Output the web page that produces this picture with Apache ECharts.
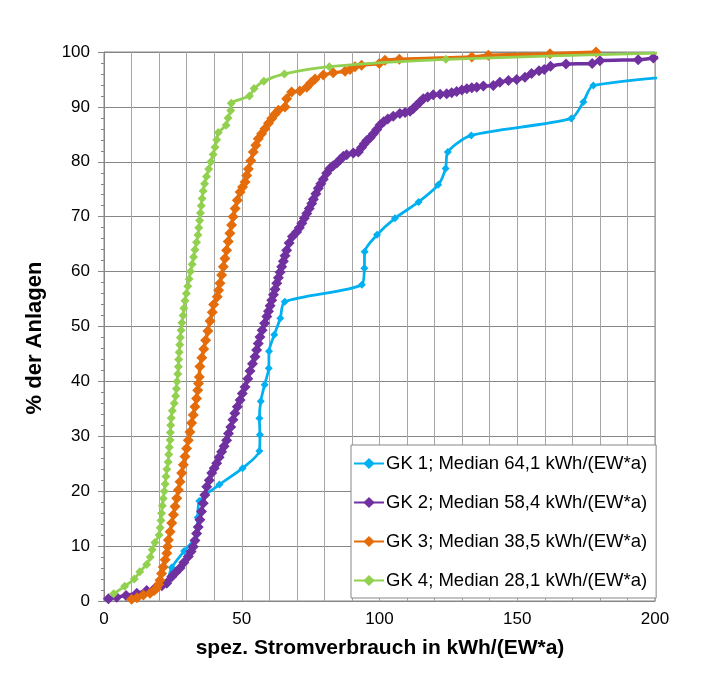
<!DOCTYPE html>
<html><head><meta charset="utf-8">
<script src="https://cdn.jsdelivr.net/npm/echarts@6/dist/echarts.min.js"></script>
<style>html,body{margin:0;padding:0;background:#fff}#c{width:720px;height:700px}</style>
</head><body><div id="c"></div>
<script>
const seriesNames = [
  'GK 1; Median 64,1 kWh/(EW*a)',
  'GK 2; Median 58,4 kWh/(EW*a)',
  'GK 3; Median 38,5 kWh/(EW*a)',
  'GK 4; Median 28,1 kWh/(EW*a)'
];
const seriesColors = ['#00B0F0', '#7030A0', '#E46C0A', '#92D050'];
const xTickLabels = [0, 50, 100, 150, 200];
const yTickLabels = [0, 10, 20, 30, 40, 50, 60, 70, 80, 90, 100];

const gk1X = [22.8, 24.6, 29.1, 33.8, 34.0, 34.6, 41.9, 50.3, 56.4, 56.6, 56.4, 56.9, 58.3, 59.8, 59.9, 61.8, 64.0, 65.6, 93.6, 94.5, 94.6, 99.1, 105.6, 114.2, 121.3, 124.0, 124.8, 133.3, 169.6, 174.0, 177.6, 241, 300];
const gk1Y = [3.0, 6.1, 9.1, 12.1, 15.2, 18.2, 21.2, 24.2, 27.3, 30.3, 33.3, 36.4, 39.4, 42.4, 45.5, 48.5, 51.5, 54.5, 57.6, 60.6, 63.6, 66.7, 69.7, 72.7, 75.8, 78.8, 81.8, 84.8, 87.9, 90.9, 93.9, 97.0, 100];

const gk2X = [1.6, 4.6, 8, 11.9, 15.5, 18.5, 21, 22.8, 24.6, 26, 27.6, 29, 30.6, 31.6, 32.4, 33, 33.6, 34.2, 34.8, 35.4, 36.0, 36.6, 37.3, 38.2, 39.1, 40.0, 40.9, 41.8, 42.7, 43.6, 44.5, 45.2, 46.0, 46.8, 47.5, 48.4, 49.4, 50.2, 51.2, 52.2, 53.0, 53.9, 54.8, 55.4, 56.0, 56.6, 57.4, 58.3, 59.1, 59.7, 60.3, 60.9, 61.5, 62.1, 62.7, 63.3, 63.9, 64.5, 65.1, 65.7, 66.3, 67.2, 68.4, 69.9, 70.9, 71.8, 72.7, 73.6, 74.5, 75.4, 76.0, 76.9, 77.8, 78.7, 79.6, 80.8, 82.0, 83.2, 84.5, 85.7, 86.9, 88.1, 90.5, 92.3, 93.5, 94.5, 95.4, 96.6, 97.8, 99.0, 100.2, 101.5, 103.0, 105.0, 107.4, 109.3, 111.1, 112.3, 113.5, 114.7, 115.9, 117.5, 119.5, 122, 124.4, 126.2, 128.0, 129.9, 131.7, 133.5, 135.3, 137.7, 141.3, 143.7, 146.8, 149.8, 152.8, 155.2, 157.9, 159.8, 162.1, 167.7, 177.2, 180.0, 193.9, 199.4, 222];
const gk2Y = [0.4, 0.7, 1.0, 1.4, 1.9, 2.3, 2.8, 3.3, 4.4, 5.2, 6.0, 7.0, 8.1, 9.0, 9.9, 11, 12.3, 13.5, 14.8, 16.3, 17.8, 19.3, 20.8, 22, 23.3, 24.2, 25.1, 26.2, 27.2, 28.2, 29.3, 30.5, 31.7, 33.0, 34.2, 35.4, 36.6, 37.8, 39.0, 40.5, 41.9, 43.2, 44.5, 45.7, 46.9, 48.1, 49.3, 50.6, 51.8, 52.8, 53.8, 54.8, 55.8, 56.8, 57.9, 58.9, 59.9, 60.9, 61.9, 62.9, 63.9, 65.2, 66.4, 67.2, 68.0, 68.8, 69.7, 70.6, 71.5, 72.4, 73.2, 74.2, 75.2, 76.0, 76.8, 77.9, 78.8, 79.3, 79.8, 80.4, 81.0, 81.3, 81.6, 81.8, 82.6, 83.3, 83.9, 84.4, 85.1, 85.9, 86.7, 87.3, 87.8, 88.3, 88.8, 89.0, 89.2, 89.7, 90.3, 90.9, 91.5, 91.8, 92.2, 92.3, 92.4, 92.6, 92.8, 93.1, 93.3, 93.5, 93.6, 93.8, 93.9, 94.5, 94.8, 95.0, 95.4, 96.1, 96.6, 96.8, 97.4, 97.8, 97.9, 98.4, 98.6, 98.9, 100];

const gk3X = [10.0, 12, 14.3, 16.7, 18.2, 19.1, 19.8, 20.3, 20.9, 21.5, 22.2, 22.8, 23.1, 23.4, 24.0, 24.6, 25.2, 25.8, 26.4, 27.0, 27.6, 28.2, 28.8, 29.4, 30.0, 30.6, 31.2, 31.8, 32.4, 33.0, 33.6, 34.0, 34.3, 34.6, 34.8, 35.5, 36.2, 36.9, 37.7, 38.5, 39.3, 39.8, 41.1, 41.6, 42.1, 42.7, 43.3, 43.9, 44.5, 45.1, 45.7, 46.3, 46.9, 47.6, 48.4, 49.4, 50.3, 51.2, 51.8, 52.4, 53.3, 54.2, 55.1, 56.0, 57.2, 58.4, 59.7, 60.9, 62.1, 63.3, 65.7, 66.3, 68.1, 71.1, 73.6, 75.1, 76.6, 79.6, 83.2, 87.5, 89.3, 91.1, 93.5, 99.9, 102.0, 107.2, 133.5, 139.5, 161.9, 178.6];
const gk3Y = [0.3, 0.6, 1.1, 1.4, 1.9, 2.3, 3.0, 3.8, 5.0, 6.2, 7.5, 8.7, 9.9, 11.1, 12.6, 14.2, 15.7, 17.2, 18.7, 20.2, 21.7, 23.3, 24.8, 26.3, 27.8, 29.3, 30.8, 32.4, 33.9, 35.4, 36.9, 38.4, 39.6, 40.8, 42.7, 44.3, 45.9, 47.5, 49.2, 51.0, 52.6, 54.0, 55.4, 56.6, 57.9, 59.4, 60.9, 62.4, 63.9, 65.5, 67.0, 68.5, 70.0, 71.5, 73.0, 74.5, 75.4, 76.3, 77.5, 78.7, 80.2, 81.8, 83.0, 84.2, 85.1, 86.0, 87.0, 87.9, 88.7, 89.4, 90.0, 91.5, 92.7, 92.9, 93.6, 94.4, 95.1, 95.8, 96.2, 96.5, 96.8, 97.3, 97.6, 97.9, 98.5, 98.7, 99.1, 99.4, 99.7, 100];

const gk4X = [3.5, 7.5, 11.0, 13.0, 15.5, 16.8, 17.5, 18.5, 20.0, 20.4, 20.7, 20.9, 21.2, 21.5, 21.9, 22.2, 22.5, 22.8, 23.3, 23.5, 23.7, 24.0, 24.1, 24.2, 24.4, 24.8, 25.5, 26.0, 26.3, 26.5, 26.8, 27.0, 27.1, 27.3, 27.5, 27.7, 28.0, 28.3, 28.7, 29.0, 29.4, 29.9, 30.4, 30.9, 31.4, 32.0, 32.5, 33.0, 33.6, 34.1, 34.4, 34.7, 35.0, 35.3, 35.6, 36.0, 36.5, 37.2, 38.0, 38.8, 39.6, 40.3, 40.9, 41.5, 44.3, 45.0, 46.0, 46.2, 52.8, 54.5, 58.0, 65.5, 81.8, 124.1, 215];
const gk4Y = [1.33, 2.67, 4.0, 5.33, 6.67, 8.0, 9.33, 10.67, 12.0, 13.33, 14.67, 16.0, 17.33, 18.67, 20.0, 21.33, 22.67, 24.0, 25.33, 26.67, 28.0, 29.33, 30.67, 32.0, 33.33, 34.67, 36.0, 37.33, 38.67, 40.0, 41.33, 42.67, 44.0, 45.33, 46.67, 48.0, 49.33, 50.67, 52.0, 53.33, 54.67, 56.0, 57.33, 58.67, 60.0, 61.33, 62.67, 64.0, 65.33, 66.67, 68.0, 69.33, 70.67, 72.0, 73.33, 74.67, 76.0, 77.33, 78.67, 80.0, 81.33, 82.67, 84.0, 85.33, 86.67, 88.0, 89.33, 90.67, 92.0, 93.33, 94.67, 96.0, 97.33, 98.67, 100];

const xs = [gk1X, gk2X, gk3X, gk4X];
const ys = [gk1Y, gk2Y, gk3Y, gk4Y];
const symSizes = [8, 11, 11, 9];
const lineWidths = [2.75, 3.5, 3.5, 2.75];
const FONT = "'Liberation Sans', Arial, sans-serif";

const chart = echarts.init(document.getElementById('c'), null, {renderer: 'canvas'});
const series = seriesNames.map((name, i) => ({
  name: name,
  type: 'line',
  data: xs[i].map((x, j) => [x, ys[i][j]]),
  smooth: 0.25,
  symbol: 'diamond',
  symbolSize: symSizes[i],
  showAllSymbol: true,
  clip: true,
  color: seriesColors[i],
  lineStyle: {width: lineWidths[i], color: seriesColors[i]},
  itemStyle: {color: seriesColors[i]},
  emphasis: {disabled: true},
  animation: false,
  z: 2 + i
}));

chart.setOption({
  animation: false,
  backgroundColor: '#ffffff',
  textStyle: {fontFamily: FONT},
  grid: {left: 104, right: 65, top: 52, bottom: 99, show: true, borderColor: '#868686', borderWidth: 1, backgroundColor: 'transparent'},
  xAxis: {
    type: 'value', min: 0, max: 200, interval: 10,
    axisLine: {show: true, lineStyle: {color: '#868686', width: 1}},
    axisTick: {show: false},
    splitLine: {show: true, lineStyle: {color: '#A6A6A6', width: 1}},
    axisLabel: {
      margin: 10, color: '#000', fontSize: 17, fontFamily: FONT,
      formatter: v => xTickLabels.indexOf(v) >= 0 ? String(v) : ''
    }
  },
  yAxis: {
    type: 'value', min: 0, max: 100, interval: 10,
    axisLine: {show: true, lineStyle: {color: '#868686', width: 1}},
    axisTick: {show: true, inside: false, length: 6, lineStyle: {color: '#868686'}},
    minorTick: {show: true, splitNumber: 5, length: 3, lineStyle: {color: '#868686'}},
    splitLine: {show: true, lineStyle: {color: '#868686', width: 1}},
    axisLabel: {
      margin: 14, color: '#000', fontSize: 17, fontFamily: FONT,
      formatter: v => yTickLabels.indexOf(v) >= 0 ? String(v) : ''
    }
  },
  legend: {
    show: true,
    orient: 'vertical',
    left: 351, top: 445,
    padding: [9, 9, 8, 2],
    itemWidth: 30, itemHeight: 14, itemGap: 20,
    backgroundColor: '#ffffff',
    borderColor: '#868686', borderWidth: 1,
    textStyle: {color: '#000', fontSize: 18.5, fontFamily: FONT, padding: [0, 0, 0, -3]},
    data: seriesNames
  },
  graphic: [
    {type: 'text', x: 35, y: 338, rotation: Math.PI / 2,
     style: {text: '% der Anlagen', font: "bold 22px 'Liberation Sans', Arial, sans-serif", fill: '#000', textAlign: 'center', textVerticalAlign: 'middle'}},
    {type: 'text', x: 380, y: 648,
     style: {text: 'spez. Stromverbrauch in kWh/(EW*a)', font: "bold 21px 'Liberation Sans', Arial, sans-serif", fill: '#000', textAlign: 'center', textVerticalAlign: 'middle'}}
  ],
  series: series
});
</script>
</body></html>
